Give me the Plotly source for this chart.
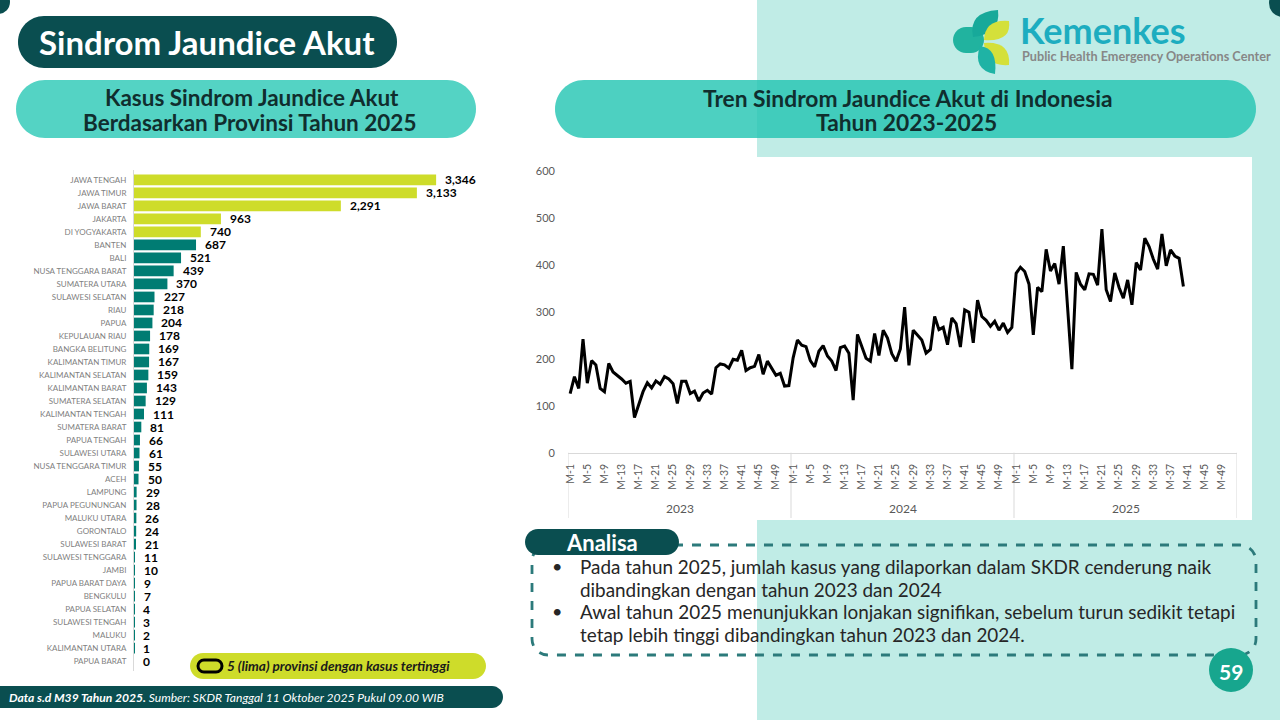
import plotly.graph_objects as go

W, H = 1280, 720

# ---------------- DATA ----------------
provinsi = ["JAWA TENGAH", "JAWA TIMUR", "JAWA BARAT", "JAKARTA", "DI YOGYAKARTA", "BANTEN", "BALI",
            "NUSA TENGGARA BARAT", "SUMATERA UTARA", "SULAWESI SELATAN", "RIAU", "PAPUA",
            "KEPULAUAN RIAU", "BANGKA BELITUNG", "KALIMANTAN TIMUR", "KALIMANTAN SELATAN",
            "KALIMANTAN BARAT", "SUMATERA SELATAN", "KALIMANTAN TENGAH", "SUMATERA BARAT",
            "PAPUA TENGAH", "SULAWESI UTARA", "NUSA TENGGARA TIMUR", "ACEH", "LAMPUNG",
            "PAPUA PEGUNUNGAN", "MALUKU UTARA", "GORONTALO", "SULAWESI BARAT", "SULAWESI TENGGARA",
            "JAMBI", "PAPUA BARAT DAYA", "BENGKULU", "PAPUA SELATAN", "SULAWESI TENGAH", "MALUKU",
            "KALIMANTAN UTARA", "PAPUA BARAT"]
kasus_provinsi = [3346, 3133, 2291, 963, 740, 687, 521, 439, 370, 227, 218, 204, 178, 169, 167, 159,
                  143, 129, 111, 81, 66, 61, 55, 50, 29, 28, 26, 24, 21, 11, 10, 9, 7, 4, 3, 2, 1, 0]

tahun = ["2023", "2024", "2025"]
minggu = ["M-%d" % i for i in range(1, 53)]

kasus_2023 = [126, 162, 137, 242, 148, 196, 187, 137, 130, 190, 172, 165, 157, 148, 152, 75, 103, 130,
              149, 138, 153, 146, 162, 157, 147, 105, 152, 152, 126, 131, 110, 127, 133, 125, 181, 189,
              187, 180, 199, 197, 218, 175, 181, 184, 209, 167, 195, 180, 165, 169, 142, 143]
kasus_2024 = [202, 240, 229, 226, 196, 183, 216, 228, 206, 195, 175, 224, 227, 212, 112, 252, 224, 201,
              195, 254, 207, 261, 244, 211, 195, 221, 310, 186, 261, 250, 240, 212, 220, 290, 262, 267,
              230, 287, 275, 225, 304, 299, 234, 325, 290, 282, 269, 280, 261, 276, 256, 267]
kasus_2025 = [382, 395, 386, 359, 251, 352, 343, 433, 387, 403, 359, 440, 310, 178, 384, 359, 347, 381,
              380, 357, 476, 347, 322, 383, 352, 329, 368, 315, 405, 389, 457, 439, 412, 391, 466, 398,
              432, 419, 414, 354]
kasus_tahunan = [kasus_2023, kasus_2024, kasus_2025]

# ---------------- STYLE ----------------
FONT = "Lato"
DARK = "#0A4E50"
MINT = "#C0ECE6"
TEAL_PILL = "#54D3C4"
YG = "#CEDC2A"
TEAL_BAR = "#007C73"


def P(x, y):
    return "%.5f,%.5f" % (x / W, 1 - y / H)


def rr_path(x0, y0, x1, y1, r):
    k = 0.5523 * r
    return ("M" + P(x0 + r, y0) + " L" + P(x1 - r, y0) +
            " C" + P(x1 - r + k, y0) + " " + P(x1, y0 + r - k) + " " + P(x1, y0 + r) +
            " L" + P(x1, y1 - r) +
            " C" + P(x1, y1 - r + k) + " " + P(x1 - r + k, y1) + " " + P(x1 - r, y1) +
            " L" + P(x0 + r, y1) +
            " C" + P(x0 + r - k, y1) + " " + P(x0, y1 - r + k) + " " + P(x0, y1 - r) +
            " L" + P(x0, y0 + r) +
            " C" + P(x0, y0 + r - k) + " " + P(x0 + r - k, y0) + " " + P(x0 + r, y0) + " Z")


def rr(x0, y0, x1, y1, r, fill, line=None):
    d = dict(type="path", path=rr_path(x0, y0, x1, y1, r), xref="paper", yref="paper",
             fillcolor=fill, layer="below")
    d["line"] = line if line else dict(width=0)
    return d


def rect(x0, y0, x1, y1, fill):
    return dict(type="rect", xref="paper", yref="paper", x0=x0 / W, x1=x1 / W, y0=1 - y1 / H,
                y1=1 - y0 / H, fillcolor=fill, line=dict(width=0), layer="below")


def circ(cx, cy, r, fill):
    return dict(type="circle", xref="paper", yref="paper", x0=(cx - r) / W, x1=(cx + r) / W,
                y0=1 - (cy + r) / H, y1=1 - (cy - r) / H, fillcolor=fill, line=dict(width=0),
                layer="below")


def leaf(pts, fill):
    (a, b, c, d, e) = pts
    path = "M" + P(*a) + " Q" + P(*b) + " " + P(*c) + " Q" + P(*d) + " " + P(*e) + " Z"
    return dict(type="path", path=path, xref="paper", yref="paper", fillcolor=fill,
                line=dict(width=0), layer="below")


def txt(x, y, text, size, color="#000000", xanchor="left", yanchor="middle", family=FONT, **kw):
    return dict(x=x / W, y=1 - y / H, xref="paper", yref="paper", text=text, showarrow=False,
                xanchor=xanchor, yanchor=yanchor, font=dict(family=family, size=size, color=color), **kw)


shapes = [
    rect(757, 0, 1280, 720, MINT),
    rect(530, 157, 1252, 520, "#FFFFFF"),
    circ(-2, 2, 12, DARK),
    circ(1283, 3, 14, DARK),
    rr(18, 16, 397, 68, 26, DARK),
    rr(16, 80, 476, 138, 29, TEAL_PILL),
    rr(555, 80, 1256, 138, 29, "rgba(32,196,178,0.8)"),
    # logo
    rr(953, 27, 984, 53, 13, "#21B39F"),
    leaf([(973, 37), (968, 12), (998, 10), (1001, 34), (973, 37)], "#17A99A"),
    leaf([(984, 40), (985, 19), (1009, 21), (1012, 42), (984, 40)], "#D4E03A"),
    leaf([(984, 43), (1011, 41), (1009, 65), (985, 67), (984, 43)], "#D4E03A"),
    leaf([(980, 46), (998, 48), (995, 74), (972, 70), (980, 46)], "#1FB3A5"),
    # legend pill + icon
    rr(190, 653, 486, 679, 13, YG),
    rr(198, 660, 222, 672, 6, "rgba(0,0,0,0)", dict(color="#000000", width=3)),
    # footer
    rr(-20, 686, 503, 708, 11, DARK),
    # analisa
    rr(532, 545, 1256, 655, 16, "rgba(0,0,0,0)", dict(color="#2C7A7B", width=2.8, dash="dash")),
    rr(525, 529, 679, 555, 13, DARK),
    circ(1231, 670, 22, "#17A68E"),
]

# ---------------- FIGURE ----------------
fig = go.Figure()

top5 = sorted(range(len(kasus_provinsi)), key=lambda i: -kasus_provinsi[i])[:5]
bar_colors = [YG if i in top5 else TEAL_BAR for i in range(len(kasus_provinsi))]

fig.add_trace(go.Bar(
    x=kasus_provinsi, y=provinsi, orientation="h", marker=dict(color=bar_colors, line=dict(width=0)),
    xaxis="x", yaxis="y", hoverinfo="x+y", showlegend=False))

annotations = []
for p, v in zip(provinsi, kasus_provinsi):
    annotations.append(dict(x=v, y=p, xref="x", yref="y", text="<b>{:,}</b>".format(v),
                            showarrow=False, xanchor="left", yanchor="middle", xshift=7,
                            font=dict(family=FONT, size=12, color="#000000")))

# line chart
xs, ys = [], []
for yi, vals in enumerate(kasus_tahunan):
    for wi, v in enumerate(vals):
        xs.append(yi * len(minggu) + wi)
        ys.append(v)
fig.add_trace(go.Scatter(x=xs, y=ys, mode="lines", line=dict(color="#000000", width=3),
                         xaxis="x2", yaxis="y2", showlegend=False))

tickvals, ticktext = [], []
for yi, t in enumerate(tahun):
    for wi in range(0, len(minggu), 4):
        tickvals.append(yi * len(minggu) + wi)
        ticktext.append(minggu[wi])

n_total = len(tahun) * len(minggu)
for yi, t in enumerate(tahun):
    annotations.append(dict(x=yi * len(minggu) + (len(minggu) - 1) / 2, y=1 - 508 / H, xref="x2",
                            yref="paper", text=t, showarrow=False, xanchor="center", yanchor="middle",
                            font=dict(family=FONT, size=12, color="#595959")))
for b in range(len(tahun) + 1):
    shapes.append(dict(type="line", xref="x2", yref="paper", x0=b * len(minggu) - 0.5,
                       x1=b * len(minggu) - 0.5, y0=1 - 518 / H, y1=1 - 452.7 / H,
                       line=dict(color="#D9D9D9", width=1), layer="below"))

# texts
annotations += [
    txt(207, 42, "<b>Sindrom Jaundice Akut</b>", 33, "#FFFFFF", "center"),
    txt(252, 98, "<b>Kasus Sindrom Jaundice Akut</b>", 22.5, "#102E2E", "center"),
    txt(249, 122, "<b>Berdasarkan Provinsi Tahun 2025</b>", 22.5, "#102E2E", "center"),
    txt(908, 98, "<b>Tren Sindrom Jaundice Akut di Indonesia</b>", 22.8, "#102E2E", "center"),
    txt(906, 122, "<b>Tahun 2023-2025</b>", 22.8, "#102E2E", "center"),
    txt(1018, 30, "<b>Kemenkes</b>", 36, "#1DADC0", "left"),
    txt(1020, 56, "<b>Public Health Emergency Operations Center</b>", 12.7, "#878787", "left"),
    txt(225, 666, "<b><i>5 (lima) provinsi dengan kasus tertinggi</i></b>", 13.6, "#1A1A1A", "left"),
    txt(7, 697, "<b><i>Data s.d M39 Tahun 2025.</i></b><i> Sumber: SKDR Tanggal 11 Oktober 2025 Pukul 09.00 WIB</i>",
        12.1, "#FFFFFF", "left"),
    txt(602, 542, "<b>Analisa</b>", 22, "#FFFFFF", "center"),
    txt(550, 566, "•", 18, "#262626", "left"),
    txt(550, 611, "•", 18, "#262626", "left"),
    txt(578, 566, "Pada tahun 2025, jumlah kasus yang dilaporkan dalam SKDR cenderung naik", 18.9, "#262626"),
    txt(578, 589, "dibandingkan dengan tahun 2023 dan 2024", 18.9, "#262626"),
    txt(578, 611, "Awal tahun 2025 menunjukkan lonjakan signifikan, sebelum turun sedikit tetapi", 18.9, "#262626"),
    txt(578, 634, "tetap lebih tinggi dibandingkan tahun 2023 dan 2024.", 18.9, "#262626"),
    txt(1231, 671, "<b>59</b>", 21, "#FFFFFF", "center"),
]

fig.update_layout(
    template="none",
    width=W, height=H, margin=dict(l=0, r=0, t=0, b=0, pad=0, autoexpand=False), autosize=False,
    paper_bgcolor="#FFFFFF", plot_bgcolor="rgba(0,0,0,0)",
    bargap=0.18, shapes=shapes, annotations=annotations,
    font=dict(family=FONT),
    xaxis=dict(domain=[134 / W, 534 / W], range=[0, 4430], visible=False, fixedrange=True,
               automargin=False),
    yaxis=dict(domain=[1 - 670.6 / H, 1 - 170.4 / H], type="category", autorange="reversed",
               categoryorder="array", categoryarray=provinsi, showline=True, linecolor="#D9D9D9",
               linewidth=1, ticks="", showgrid=False, zeroline=False, ticklabelstandoff=5,
               automargin=False, tickfont=dict(family=FONT, size=8, color="#7F7F7F"), anchor="x"),
    xaxis2=dict(domain=[568 / W, 1237 / W], range=[-0.5, n_total - 0.5], tickmode="array",
                tickvals=tickvals, ticktext=ticktext, tickangle=-90, showgrid=False, zeroline=False,
                showline=True, linecolor="#D9D9D9", linewidth=1, ticks="", ticklabelstandoff=6,
                automargin=False, tickfont=dict(family=FONT, size=10.5, color="#595959"), anchor="y2"),
    yaxis2=dict(domain=[1 - 452.7 / H, 1 - 171 / H], range=[0, 600], dtick=100, showgrid=False,
                zeroline=False, showline=False, ticks="", ticklabelstandoff=12, automargin=False,
                tickfont=dict(family=FONT, size=11, color="#595959"), anchor="x2"),
)

fig.write_html(
    "out.html",
    config={"displayModeBar": False},
    post_script=(
        "var gd=document.getElementById('{plot_id}');"
        "gd.style.position='fixed';gd.style.top='0px';gd.style.left='0px';"
        "document.documentElement.style.margin='0';document.body.style.margin='0';"
        "document.body.style.padding='0';document.body.style.overflow='hidden';"
        "document.documentElement.style.overflow='hidden';"
    ),
)
